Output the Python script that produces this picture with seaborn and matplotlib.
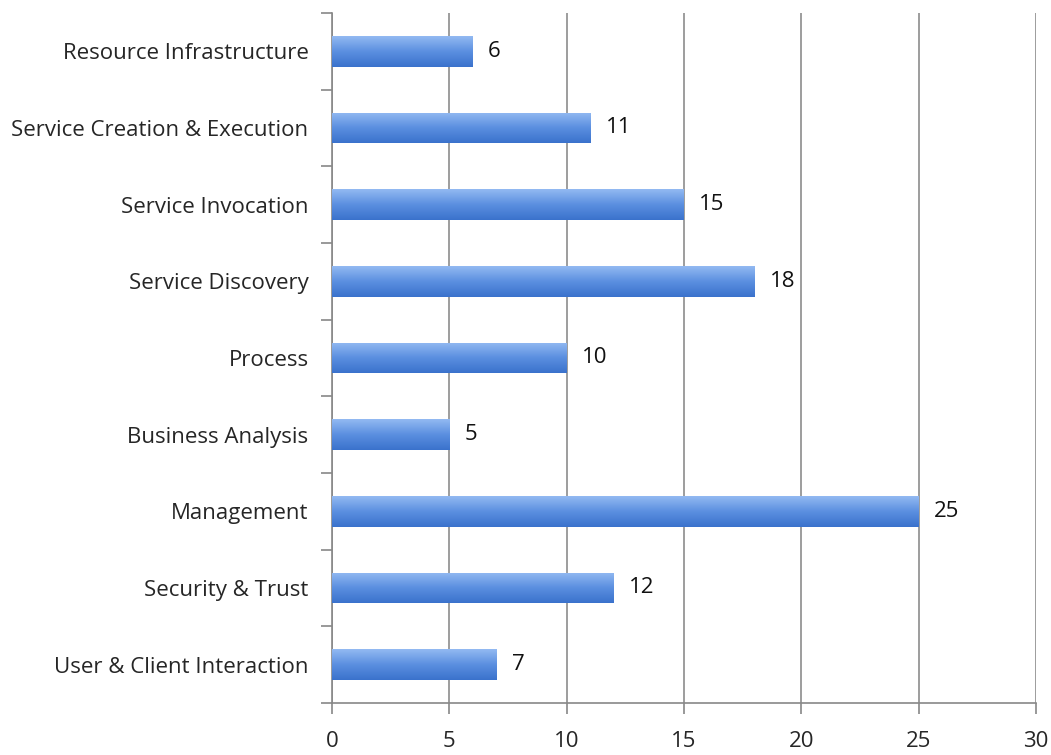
import numpy as np
import pandas as pd
import matplotlib
matplotlib.use("Agg")
import matplotlib.pyplot as plt
import seaborn as sns
from matplotlib.colors import LinearSegmentedColormap

categories = ["Resource Infrastructure", "Service Creation & Execution",
              "Service Invocation", "Service Discovery", "Process",
              "Business Analysis", "Management", "Security & Trust",
              "User & Client Interaction"]
counts = [6, 11, 15, 18, 10, 5, 25, 12, 7]
x_ticks = [0, 5, 10, 15, 20, 25, 30]

df = pd.DataFrame({"category": categories, "count": counts})

sns.set_style("white")
plt.rcParams["font.family"] = ["Open Sans", "DejaVu Sans"]

fig = plt.figure(figsize=(10.51, 7.55), dpi=100)
ax = fig.add_axes([0.316, 0.069, 0.6697, 0.914])

sns.barplot(data=df, y="category", x="count", orient="h", width=0.4,
            color="#5b8fe0", ax=ax, zorder=3)

# gradient fill for each bar: light on top, darker at the bottom
cmap = LinearSegmentedColormap.from_list("bar", ["#3a72cc", "#5b8fe0", "#93baf2"])
grad = np.linspace(0, 1, 256).reshape(-1, 1)
for p in ax.patches:
    x0, y0 = p.get_x(), p.get_y()
    w, h = p.get_width(), p.get_height()
    im = ax.imshow(grad, cmap=cmap, aspect="auto", zorder=4,
                   extent=[x0, x0 + w, y0 + h, y0], origin="lower")
    im.set_clip_path(p)
    p.set_edgecolor("none")

ax.set_xlim(0, 30)
ax.set_ylim(len(categories) - 0.5, -0.5)
ax.set_xticks(x_ticks)
ax.set_xticklabels([str(t) for t in x_ticks], fontsize=16)
ax.set_yticks(range(len(categories)))
ax.set_yticklabels(categories, fontsize=16)
ax.set_yticks(np.arange(-0.5, len(categories)), minor=True)
ax.tick_params(axis="both", which="both", left=True, bottom=True)
ax.tick_params(axis="y", which="major", length=0, pad=17)
ax.tick_params(axis="y", which="minor", length=8, color="#888888", width=1.2, direction="out")
ax.tick_params(axis="x", which="major", length=8, color="#888888", width=1.2,
               direction="out", pad=12)
ax.set_xlabel("")
ax.set_ylabel("")

ax.grid(axis="x", color="#8c8c8c", linewidth=1.2, zorder=0)
ax.set_axisbelow(True)
for s in ["top", "right"]:
    ax.spines[s].set_visible(False)
for s in ["left", "bottom"]:
    ax.spines[s].set_color("#888888")
    ax.spines[s].set_linewidth(1.2)

for i, v in enumerate(counts):
    ax.text(v + 0.65, i, str(v), va="center", ha="left", fontsize=16, color="#111111")

fig.savefig("out.png", dpi=100)
